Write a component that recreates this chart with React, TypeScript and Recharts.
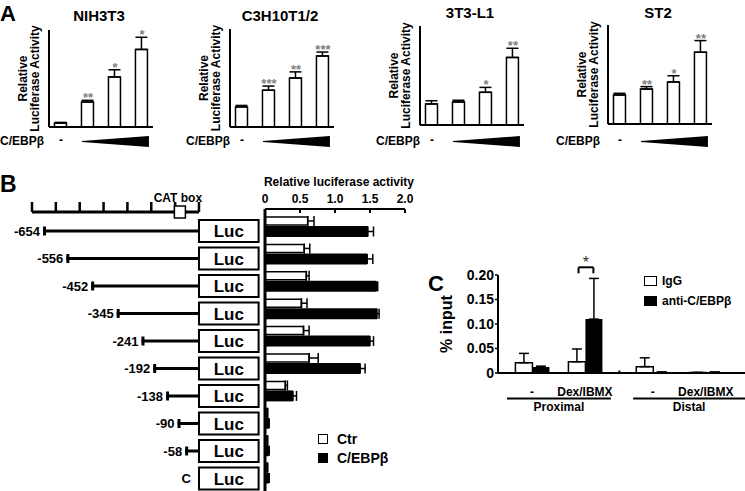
import React from 'react';
import {
  ComposedChart,
  BarChart,
  Bar,
  Line,
  Scatter,
  XAxis,
  YAxis,
  ErrorBar,
  ReferenceLine,
  Legend,
} from 'recharts';

const FONT = '"Liberation Sans", Arial, Helvetica, sans-serif';

// ---- A: reporter activity with increasing C/EBPb
const doses = [1, 2, 3, 4];

const nihValues = [0.16, 1.03, 2.06, 3.2];
const nihErrors = [0.03, 0.07, 0.3, 0.5];
const nihStars = ['', '**', '*', '*'];

const c3hValues = [0.82, 1.5, 2.0, 2.9];
const c3hErrors = [0.06, 0.17, 0.25, 0.16];
const c3hStars = ['', '***', '**', '***'];

const l1Values = [0.85, 0.93, 1.32, 2.73];
const l1Errors = [0.13, 0.07, 0.2, 0.37];
const l1Stars = ['', '', '*', '**'];

const st2Values = [1.17, 1.41, 1.7, 2.9];
const st2Errors = [0.07, 0.1, 0.25, 0.47];
const st2Stars = ['', '**', '*', '**'];

const cellLines = ['NIH3T3', 'C3H10T1/2', '3T3-L1', 'ST2'];
const yTicksA = [0, 1, 2, 3, 4];
const xTicksA = [1.5, 2.5, 3.5];

// ---- B: deletion constructs
const constructs = ['-654', '-556', '-452', '-345', '-241', '-192', '-138', '-90', '-58', 'C'];
const promoterStart = [-654, -556, -452, -345, -241, -192, -138, -90, -58, 0];
const lucSpan = [250, 250, 250, 250, 250, 250, 250, 250, 250, 250];
const rulerTicks = [-700, -600, -500, -400, -300, -200, -100, 0];
const catBoxPos = [-80];

const activitySeries = ['Ctr', 'C/EBPβ'];
const ctrValues = [0.61, 0.56, 0.59, 0.52, 0.55, 0.63, 0.29, 0.03, 0.03, 0.03];
const ctrErrors = [0.09, 0.08, 0.04, 0.08, 0.08, 0.13, 0.03, 0.01, 0.01, 0.01];
const cebpValues = [1.47, 1.46, 1.59, 1.6, 1.5, 1.36, 0.4, 0.05, 0.05, 0.05];
const cebpErrors = [0.08, 0.08, 0.02, 0.03, 0.05, 0.07, 0.05, 0.01, 0.01, 0.01];
const activityTicks = [0, 0.5, 1, 1.5, 2];

// ---- C: ChIP
const chipSeries = ['IgG', 'anti-C/EBPβ'];
const chipLabels = ['-', 'Dex/IBMX', '-', 'Dex/IBMX'];
const chipX = [1, 2, 3.28, 4.28];
const iggValues = [0.021, 0.023, 0.013, 0.001];
const iggErrors = [0.019, 0.026, 0.018, 0];
const antiValues = [0.012, 0.11, 0.002, 0.002];
const antiErrors = [0.002, 0.083, 0, 0];
const chipTicks = [0, 0.05, 0.1, 0.15, 0.2];

// layout of the four A panels
const A_AXIS_X = [49, 230, 420, 608];
const A_TOP = [30, 29, 26, 25];
const A_BOTTOM = [127, 127, 125, 124];
const A_TITLE_Y = [21, 21, 18, 18];
const A_LABEL_X = [0, 186, 376, 556];
const A_DOMAIN = [0.556, 4.41];
const A_PLOT_W = 104;
const A_YAXIS_W = 40;

const axisStyle = { stroke: '#000', strokeWidth: 2 };
const tickStyle = { stroke: '#000', strokeWidth: 1.5 };
const boldText = { fontFamily: FONT, fontWeight: 'bold' as const, fill: '#000' };

const starShape = (p: any) =>
  p.payload && p.payload.stars ? (
    <text x={p.cx} y={p.cy + 2} textAnchor="middle" fontSize={13} {...boldText} fill="#808080">
      {p.payload.stars}
    </text>
  ) : (
    <g />
  );

function DoseChart({ k, values, errors, stars }: any) {
  const data = doses.map((x, i) => ({
    x,
    value: values[i],
    err: [0, errors[i]],
    top: values[i] + errors[i],
    stars: stars[i],
  }));
  const bottom = A_BOTTOM[k];
  return (
    <div style={{ position: 'absolute', left: A_AXIS_X[k] - A_YAXIS_W, top: 0 }}>
      <ComposedChart
        width={A_YAXIS_W + A_PLOT_W + 4}
        height={bottom + 10}
        data={data}
        margin={{ top: A_TOP[k], right: 4, bottom: 0, left: 0 }}
      >
        <XAxis
          type="number"
          dataKey="x"
          domain={A_DOMAIN}
          ticks={xTicksA}
          tick={false}
          tickSize={4}
          height={10}
          axisLine={axisStyle}
          tickLine={tickStyle}
        />
        <YAxis
          type="number"
          domain={[0, 4]}
          ticks={yTicksA}
          tick={false}
          tickSize={4}
          width={A_YAXIS_W}
          axisLine={axisStyle}
          tickLine={tickStyle}
        />
        <Bar dataKey="value" barSize={12} fill="#fff" stroke="#000" strokeWidth={1.5} isAnimationActive={false}>
          <ErrorBar dataKey="err" direction="y" width={6} stroke="#000" strokeWidth={1.5} />
        </Bar>
        <Scatter dataKey="top" shape={starShape} isAnimationActive={false} />
      </ComposedChart>
    </div>
  );
}

// ---- B constructs
const PromoterShape = (props: any) => {
  const { x, y, width, height, payload } = props;
  if (!payload || !payload.start) return <g />;
  const x0 = Math.min(x, x + width);
  const x1 = Math.max(x, x + width);
  const cy = y + height / 2;
  return (
    <g>
      <line x1={x0} x2={x1} y1={cy} y2={cy} stroke="#000" strokeWidth={3} />
      <line x1={x0 + 1.5} x2={x0 + 1.5} y1={cy - 4.5} y2={cy + 4.5} stroke="#000" strokeWidth={3} />
      <text x={x0 - 3} y={cy + 4.5} textAnchor="end" fontSize={13} {...boldText}>
        {payload.name}
      </text>
    </g>
  );
};

const LucShape = (props: any) => {
  const { x, y, width, height, payload } = props;
  const x0 = Math.min(x, x + width);
  const w = Math.abs(width);
  return (
    <g>
      <rect x={x0} y={y} width={w} height={height} fill="#fff" stroke="#000" strokeWidth={2} />
      <text x={x0 + w / 2} y={y + height / 2 + 6} textAnchor="middle" fontSize={17} {...boldText}>
        Luc
      </text>
      {payload && payload.start === 0 ? (
        <text x={x0 - 8} y={y + height / 2 + 4.5} textAnchor="end" fontSize={13} {...boldText}>
          {payload.name}
        </text>
      ) : null}
    </g>
  );
};

const rulerDot = (p: any) => (
  <line key={`rt-${p.index}`} x1={p.cx} x2={p.cx} y1={p.cy} y2={p.cy - 10} stroke="#000" strokeWidth={2.5} />
);

const catBoxShape = (p: any) => (
  <g>
    <rect x={p.cx - 5.5} y={p.cy - 6} width={11} height={12} fill="#fff" stroke="#000" strokeWidth={1.5} />
    <text x={p.cx - 2} y={p.cy - 10} textAnchor="middle" fontSize={12} {...boldText}>
      CAT box
    </text>
  </g>
);

const TopTick = (props: any) => {
  const { x, y, payload } = props;
  const v = payload.value;
  return (
    <g>
      <line x1={x} x2={x} y1={y} y2={y + 4} stroke="#000" strokeWidth={2} />
      <text x={x} y={y - 6} textAnchor="middle" fontSize={12} {...boldText}>
        {v === 0 ? '0' : v.toFixed(1)}
      </text>
    </g>
  );
};

const swatch = (filled: boolean, w: number, h: number) => (
  <span
    style={{
      display: 'inline-block',
      width: w,
      height: h,
      boxSizing: 'border-box',
      border: '1.5px solid #000',
      background: filled ? '#000' : '#fff',
    }}
  />
);

// legend rows in the order of the series list; the first series is the open one
const makeLegend = (order: string[], fontSize: number, rowH: number, w: number, h: number, gap: number) => (props: any) => {
  const items = [...(props.payload || [])].sort(
    (a: any, b: any) => order.indexOf(a.value) - order.indexOf(b.value)
  );
  return (
    <div style={{ fontFamily: FONT, fontWeight: 'bold', fontSize, color: '#000' }}>
      {items.map((e: any) => (
        <div key={e.value} style={{ display: 'flex', alignItems: 'center', height: rowH }}>
          {swatch(order.indexOf(e.value) === 1, w, h)}
          <span style={{ marginLeft: gap }}>{e.value}</span>
        </div>
      ))}
    </div>
  );
};

const legendB = makeLegend(activitySeries, 14, 19, 10, 10, 9);
const legendC = makeLegend(chipSeries, 12, 20, 13, 10, 5);

const starLabel = (p: any) => {
  const vb = p.viewBox || {};
  return (
    <text x={vb.x + (vb.width || 0) / 2} y={vb.y + 1} textAnchor="middle" fontSize={16} fontFamily={FONT} fill="#333">
      *
    </text>
  );
};

export default function App() {
  const aSets = [
    { values: nihValues, errors: nihErrors, stars: nihStars },
    { values: c3hValues, errors: c3hErrors, stars: c3hStars },
    { values: l1Values, errors: l1Errors, stars: l1Stars },
    { values: st2Values, errors: st2Errors, stars: st2Stars },
  ];
  const constructData = constructs.map((name, i) => ({ name, start: promoterStart[i], luc: lucSpan[i] }));
  const rulerData = rulerTicks.map((x) => ({ x, y: 0 }));
  const catData = catBoxPos.map((x) => ({ x, y: 0 }));
  const activityData = constructs.map((name, i) => ({
    name,
    ctr: ctrValues[i],
    cebp: cebpValues[i],
    ctrErr: [0, ctrErrors[i]],
    cebpErr: [0, cebpErrors[i]],
  }));
  const chipData = chipX.map((x, i) => ({
    x,
    igg: iggValues[i],
    anti: antiValues[i],
    iggErr: [0, iggErrors[i]],
    antiErr: [0, antiErrors[i]],
  }));

  const unitA = A_PLOT_W / (A_DOMAIN[1] - A_DOMAIN[0]);

  return (
    <div
      style={{
        position: 'absolute',
        left: 0,
        top: 0,
        width: 745,
        height: 491,
        overflow: 'hidden',
        background: '#fff',
        fontFamily: FONT,
      }}
    >
      {aSets.map((s, k) => (
        <DoseChart key={cellLines[k]} k={k} {...s} />
      ))}

      {/* B ruler */}
      <div style={{ position: 'absolute', left: 0, top: 184 }}>
        <ComposedChart width={270} height={56} data={rulerData} margin={{ top: 0, right: 9, bottom: 0, left: 32 }}>
          <XAxis type="number" dataKey="x" domain={[-700, 260]} hide />
          <YAxis type="number" domain={[-1, 1]} hide />
          <Line dataKey="y" stroke="#000" strokeWidth={3} dot={rulerDot} activeDot={false} isAnimationActive={false} />
          <Scatter data={catData} dataKey="y" shape={catBoxShape} isAnimationActive={false} />
        </ComposedChart>
      </div>

      {/* B constructs */}
      <div style={{ position: 'absolute', left: 0, top: 200 }}>
        <BarChart
          layout="vertical"
          width={270}
          height={292}
          data={constructData}
          stackOffset="sign"
          barSize={22}
          margin={{ top: 17, right: 9, bottom: 0, left: 32 }}
        >
          <XAxis type="number" domain={[-700, 260]} hide />
          <YAxis type="category" dataKey="name" hide />
          <Bar dataKey="start" stackId="c" shape={PromoterShape} isAnimationActive={false} />
          <Bar dataKey="luc" stackId="c" shape={LucShape} isAnimationActive={false} />
        </BarChart>
      </div>

      {/* B activity */}
      <div style={{ position: 'absolute', left: 230, top: 170 }}>
        <BarChart
          layout="vertical"
          width={190}
          height={321}
          data={activityData}
          barGap={1}
          margin={{ top: 0, right: 15, bottom: 0, left: 0 }}
        >
          <XAxis
            type="number"
            orientation="top"
            domain={[0, 2]}
            ticks={activityTicks}
            height={39}
            tickSize={0}
            tickMargin={0}
            tickLine={false}
            axisLine={axisStyle}
            tick={TopTick}
            interval={0}
          />
          <YAxis
            type="category"
            dataKey="name"
            width={35}
            tick={false}
            tickLine={false}
            axisLine={{ stroke: '#000', strokeWidth: 3 }}
            padding={{ top: 4, bottom: 4 }}
          />
          <Bar dataKey="ctr" name={activitySeries[0]} barSize={8} fill="#fff" stroke="#000" strokeWidth={1.5} isAnimationActive={false}>
            <ErrorBar dataKey="ctrErr" direction="x" width={5} stroke="#000" strokeWidth={1.5} />
          </Bar>
          <Bar dataKey="cebp" name={activitySeries[1]} barSize={11} fill="#000" isAnimationActive={false}>
            <ErrorBar dataKey="cebpErr" direction="x" width={5} stroke="#000" strokeWidth={1.5} />
          </Bar>
          <Legend
            layout="horizontal"
            verticalAlign="middle"
            align="center"
            content={legendB}
            wrapperStyle={{ left: 88, top: 259, width: 'auto', height: 'auto' }}
          />
        </BarChart>
      </div>

      {/* C ChIP */}
      <div style={{ position: 'absolute', left: 420, top: 250 }}>
        <ComposedChart
          width={325}
          height={241}
          data={chipData}
          barGap={0}
          margin={{ top: 25, right: 0, bottom: 88, left: 0 }}
        >
          <XAxis
            type="number"
            dataKey="x"
            domain={[0.36, 5.02]}
            allowDataOverflow
            ticks={chipX}
            interval={0}
            tickFormatter={(v: number) => chipLabels[chipX.indexOf(v)] ?? ''}
            tickLine={false}
            tickMargin={8}
            height={30}
            axisLine={axisStyle}
            tick={{ ...boldText, fontSize: 12 }}
          />
          <YAxis
            type="number"
            domain={[0, 0.2]}
            ticks={chipTicks}
            interval={0}
            tickFormatter={(v: number) => (v === 0 ? '0' : v.toFixed(2))}
            width={78}
            tickSize={3}
            tickMargin={1}
            axisLine={axisStyle}
            tickLine={tickStyle}
            tick={{ ...boldText, fontSize: 14 }}
          />
          <Bar dataKey="igg" name={chipSeries[0]} barSize={17} fill="#fff" stroke="#000" strokeWidth={1.5} isAnimationActive={false}>
            <ErrorBar dataKey="iggErr" direction="y" width={5} stroke="#000" strokeWidth={1.5} />
          </Bar>
          <Bar dataKey="anti" name={chipSeries[1]} barSize={17} fill="#000" isAnimationActive={false}>
            <ErrorBar dataKey="antiErr" direction="y" width={5} stroke="#000" strokeWidth={1.5} />
          </Bar>
          <ReferenceLine
            segment={[{ x: 2.65, y: 0 }, { x: 2.65, y: 0.005 }]}
            stroke="#000"
            strokeWidth={2}
            ifOverflow="visible"
          />
          <ReferenceLine
            segment={[{ x: 1.88, y: 0.2157 }, { x: 2.16, y: 0.2157 }]}
            stroke="#000"
            strokeWidth={2}
            ifOverflow="visible"
            label={starLabel}
          />
          <ReferenceLine
            segment={[{ x: 1.88, y: 0.2157 }, { x: 1.88, y: 0.2035 }]}
            stroke="#000"
            strokeWidth={2}
            ifOverflow="visible"
          />
          <ReferenceLine
            segment={[{ x: 2.16, y: 0.2157 }, { x: 2.16, y: 0.2035 }]}
            stroke="#000"
            strokeWidth={2}
            ifOverflow="visible"
          />
          <ReferenceLine
            segment={[{ x: 0.53, y: -0.052 }, { x: 2.49, y: -0.052 }]}
            stroke="#000"
            strokeWidth={2}
            ifOverflow="visible"
            label={{ value: 'Proximal', position: 'bottom', offset: 4, fontSize: 12, ...boldText }}
          />
          <ReferenceLine
            segment={[{ x: 2.91, y: -0.052 }, { x: 5.02, y: -0.052 }]}
            stroke="#000"
            strokeWidth={2}
            ifOverflow="visible"
            label={{ value: 'Distal', position: 'bottom', offset: 4, fontSize: 12, ...boldText }}
          />
          <Legend
            layout="horizontal"
            verticalAlign="middle"
            align="center"
            content={legendC}
            wrapperStyle={{ left: 224, top: 21, width: 'auto', height: 'auto' }}
          />
        </ComposedChart>
      </div>

      {/* static text */}
      <svg
        width={745}
        height={491}
        style={{ position: 'absolute', left: 0, top: 0, pointerEvents: 'none' }}
      >
        <text x={0} y={21} fontSize={22} {...boldText}>A</text>
        <text x={0} y={192} fontSize={23} {...boldText}>B</text>
        <text x={428} y={291} fontSize={22} {...boldText}>C</text>

        {cellLines.map((name, k) => {
          const ax = A_AXIS_X[k];
          const cy = (A_TOP[k] + A_BOTTOM[k]) / 2;
          const c = (i: number) => ax + (doses[i] - A_DOMAIN[0]) * unitA;
          const wl = c(1) - 6;
          const wr = c(3) + 7;
          return (
            <g key={name}>
              <text x={ax + 50} y={A_TITLE_Y[k]} textAnchor="middle" fontSize={15} {...boldText}>
                {name}
              </text>
              <text
                transform={`translate(${ax - 26},${cy}) rotate(-90)`}
                textAnchor="middle"
                dominantBaseline="central"
                fontSize={12}
                {...boldText}
              >
                Relative
              </text>
              <text
                transform={`translate(${ax - 14},${cy}) rotate(-90)`}
                textAnchor="middle"
                dominantBaseline="central"
                fontSize={12}
                {...boldText}
              >
                Luciferase Activity
              </text>
              <text x={A_LABEL_X[k]} y={145} fontSize={12} {...boldText}>
                C/EBPβ
              </text>
              <text x={c(0)} y={144} textAnchor="middle" fontSize={12} {...boldText}>
                -
              </text>
              <polygon points={`${wl},141 ${wr},136 ${wr},147 ${wl},142`} fill="#000" />
            </g>
          );
        })}

        <text x={339} y={186} textAnchor="middle" fontSize={12} {...boldText}>
          Relative luciferase activity
        </text>
        <text
          transform="translate(446,324) rotate(-90)"
          textAnchor="middle"
          dominantBaseline="central"
          fontSize={16}
          {...boldText}
        >
          % input
        </text>
      </svg>
    </div>
  );
}
